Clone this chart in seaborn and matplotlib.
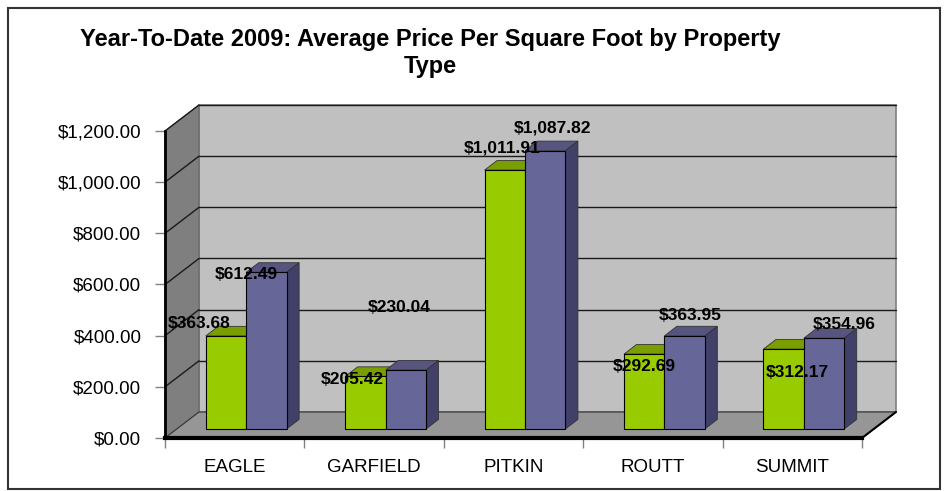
"""Year-to-date 2009 average price per square foot, 3D-style grouped bars."""

import pandas as pd
import matplotlib.pyplot as plt
import seaborn as sns
from matplotlib.patches import Polygon, Rectangle
from matplotlib.ticker import FuncFormatter, FixedLocator

counties = ["EAGLE", "GARFIELD", "PITKIN", "ROUTT", "SUMMIT"]
series_names = ["Series 1", "Series 2"]
series1 = [363.68, 205.42, 1011.91, 292.69, 312.17]
series2 = [612.49, 230.04, 1087.82, 363.95, 354.96]
y_ticks = [0, 200, 400, 600, 800, 1000, 1200]

# label nudges (pixels) to mimic the excel placement
nudge1 = [(-27, 12), (-13, -3), (-3, 22), (0, -12), (14, -23)]
nudge2 = [(-20, -2), (-7, 63), (7, 23), (6, 20), (20, 14)]

front_colors = ["#99CC00", "#666699"]
top_colors = ["#7A9E00", "#55557F"]
side_colors = ["#6E8F00", "#404068"]

sns.set_theme(style="white")
plt.rcParams["font.family"] = ["Liberation Sans", "DejaVu Sans"]
plt.rcParams["text.color"] = "black"

W, H = 946, 491
fig = plt.figure(figsize=(W / 100, H / 100), dpi=100)
ax = fig.add_axes([165 / W, 53 / H, 697 / W, 307 / H])

df = pd.DataFrame({
    "county": counties * 2,
    "series": [series_names[0]] * 5 + [series_names[1]] * 5,
    "price": series1 + series2,
})

sns.barplot(data=df, x="county", y="price", hue="series", order=counties,
            hue_order=series_names, palette=front_colors, saturation=1,
            width=0.58, edgecolor="black", linewidth=0.8, legend=False, ax=ax)

ax.set_xlim(-0.5, 4.5)
ax.set_ylim(0, 1200)

# pixel -> data conversion
px_x = 697 / 5.0
px_y = 307 / 1200.0
Dx, Dy = 34 / px_x, 26 / px_y          # full depth of the box
fdx, fdy = 11.5 / px_x, 9 / px_y       # where bar fronts sit
bdx, bdy = 12.5 / px_x, 9.6 / px_y     # bar depth

# walls and floor
back = Rectangle((-0.5 + Dx, Dy), 5, 1200, facecolor="#C0C0C0",
                 edgecolor="#808080", lw=1.2, zorder=0.1, clip_on=False)
side = Polygon([(-0.5, 0), (-0.5 + Dx, Dy), (-0.5 + Dx, 1200 + Dy), (-0.5, 1200)],
               closed=True, facecolor="#7F7F7F", edgecolor="#666666", lw=0.8,
               zorder=0.2, clip_on=False)
floor = Polygon([(-0.5, 0), (4.5, 0), (4.5 + Dx, Dy), (-0.5 + Dx, Dy)],
                closed=True, facecolor="#969696", edgecolor="#333333", lw=0.8,
                zorder=0.3, clip_on=False)
for p in (back, side, floor):
    ax.add_patch(p)

for v in y_ticks[1:]:
    ax.plot([-0.5 + Dx, 4.5 + Dx], [v + Dy, v + Dy], color="#1a1a1a", lw=1.0,
            zorder=0.4, clip_on=False)
    ax.plot([-0.5, -0.5 + Dx], [v, v + Dy], color="#1a1a1a", lw=1.0,
            zorder=0.4, clip_on=False)
ax.plot([4.5, 4.5 + Dx], [0, Dy], color="black", lw=1.5, zorder=0.5, clip_on=False)

# turn flat bars into boxes
for k, cont in enumerate(ax.containers):
    nudges = nudge1 if k == 0 else nudge2
    for i, bar in enumerate(cont):
        x0 = bar.get_x() + fdx
        w = bar.get_width()
        h = bar.get_height()
        bar.set_xy((x0, fdy))
        bar.set_zorder(3)
        x1, y0, y1 = x0 + w, fdy, fdy + h
        top = Polygon([(x0, y1), (x0 + bdx, y1 + bdy), (x1 + bdx, y1 + bdy), (x1, y1)],
                      closed=True, facecolor=top_colors[k], edgecolor="#333333",
                      lw=0.6, zorder=2, clip_on=False)
        sd = Polygon([(x1, y0), (x1 + bdx, y0 + bdy), (x1 + bdx, y1 + bdy), (x1, y1)],
                     closed=True, facecolor=side_colors[k], edgecolor="#333333",
                     lw=0.6, zorder=2, clip_on=False)
        ax.add_patch(top)
        ax.add_patch(sd)
        ax.annotate(f"${h:,.2f}", xy=(x0 + w / 2, y1), xytext=nudges[i],
                    textcoords="offset pixels", ha="center", va="center",
                    fontsize=12.5, fontweight="bold", color="black", zorder=5,
                    annotation_clip=False)

# axes styling
for s in ("top", "right"):
    ax.spines[s].set_visible(False)
ax.spines["left"].set_color("black")
ax.spines["left"].set_linewidth(2)
ax.spines["left"].set_zorder(4)
ax.spines["bottom"].set_color("black")
ax.spines["bottom"].set_linewidth(3)
ax.spines["bottom"].set_zorder(4)

ax.yaxis.set_major_locator(FixedLocator(y_ticks))
ax.yaxis.set_major_formatter(FuncFormatter(lambda v, _: f"${v:,.2f}"))
ax.tick_params(axis="y", which="major", left=True, length=7, width=1,
               color="#808080", labelsize=13.5, pad=10, labelcolor="black")
ax.set_xticks(range(len(counties)))
ax.set_xticklabels(counties)
ax.tick_params(axis="x", which="major", bottom=False, labelsize=13.5, pad=9,
               labelcolor="black")
ax.set_xticks([i - 0.5 for i in range(len(counties) + 1)], minor=True)
ax.tick_params(axis="x", which="minor", bottom=True, length=7, width=1,
               color="#808080")
ax.set_xlabel("")
ax.set_ylabel("")
ax.patch.set_visible(False)

fig.text(430 / W, 1 - 53 / H,
         "Year-To-Date 2009: Average Price Per Square Foot by Property\nType",
         ha="center", va="center", multialignment="center", color="black",
         fontsize=17, fontweight="bold", linespacing=1.2)

fig.patches.append(Rectangle((8 / W, 2 / H), 932 / W, 481 / H, fill=False,
                             edgecolor="#333333", lw=1.5,
                             transform=fig.transFigure, figure=fig))

fig.savefig("out.png", dpi=100)
